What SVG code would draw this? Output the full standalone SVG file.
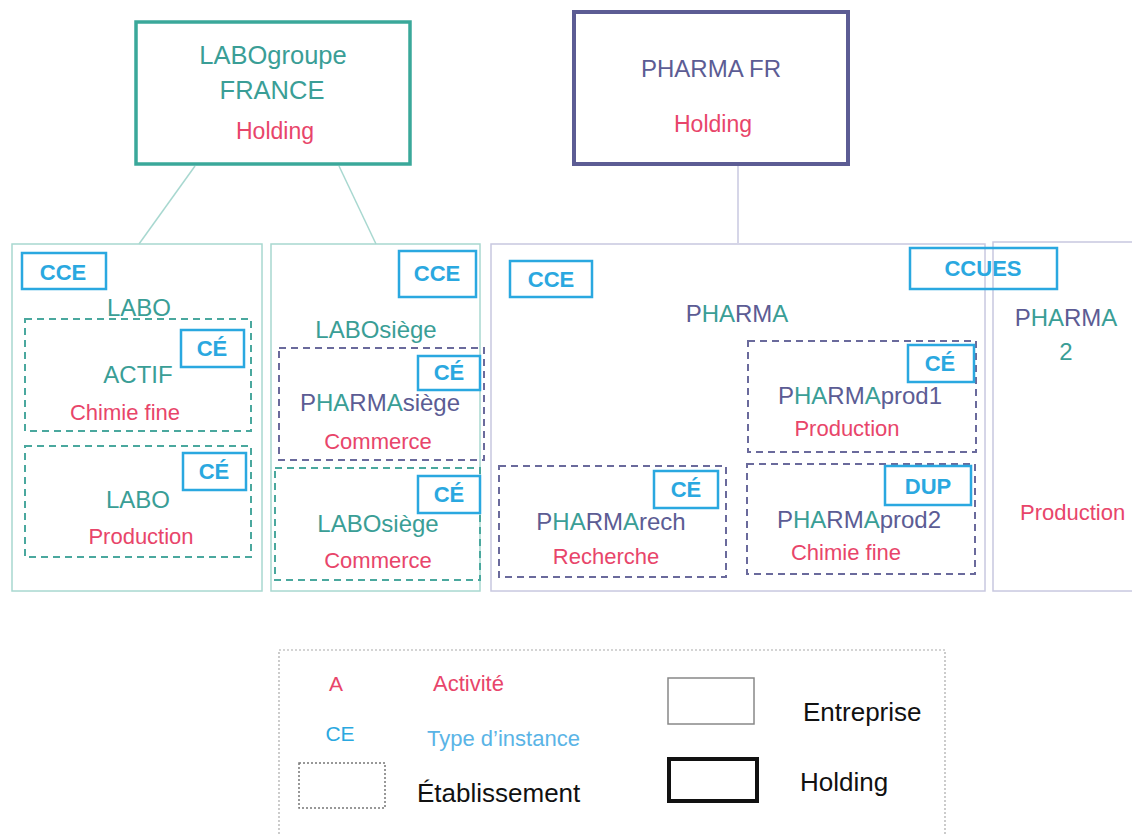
<svg xmlns="http://www.w3.org/2000/svg" width="1132" height="835" viewBox="0 0 1132 835">
<style>
text{font-family:"Liberation Sans",Arial,sans-serif;text-anchor:middle}
.t{fill:#3a9e96;font-size:24px}
.p{fill:#5c5c94;font-size:24px}
.a{fill:#e8456a;font-size:22px}
.b{fill:#2aa8e0;font-size:22px;font-weight:bold}
.ib{fill:none;stroke:#2aa8e0;stroke-width:2.5}
.et{fill:none;stroke:#a8d8d0;stroke-width:1.5}
.ep{fill:none;stroke:#c8c8e0;stroke-width:1.5}
.dt{fill:none;stroke:#4aa89e;stroke-width:2;stroke-dasharray:7 5}
.dp{fill:none;stroke:#6a6a9c;stroke-width:2;stroke-dasharray:7 5}
.tc{fill:#3a9e96}
.pc{fill:#5c5c94}
.lg{font-size:26px;fill:#111;text-anchor:start}
</style>
<rect width="1132" height="835" fill="#fff"/>
<g id="connectors">
<line x1="195" y1="166" x2="139" y2="244" stroke="#a8d8d0" stroke-width="1.5"/>
<line x1="339" y1="166" x2="376" y2="244" stroke="#a8d8d0" stroke-width="1.5"/>
<line x1="738" y1="166" x2="738" y2="243" stroke="#c8c8e0" stroke-width="1.5"/>
</g>
<g id="labogroupe">
<rect x="136" y="22" width="274" height="142" fill="none" stroke="#3aa89a" stroke-width="3.5"/>
<text x="273" y="64" class="t" style="font-size:25.5px">LABOgroupe</text>
<text x="272" y="99" class="t" style="font-size:25.5px">FRANCE</text>
<text x="275" y="139" class="a" style="font-size:23px">Holding</text>
</g>
<g id="pharmafr">
<rect x="574" y="12" width="274" height="152" fill="none" stroke="#5c5c94" stroke-width="4"/>
<text x="711" y="77" class="p">PHARMA FR</text>
<text x="713" y="132" class="a" style="font-size:23px">Holding</text>
</g>
<g id="labo">
<rect x="12" y="244" width="250" height="347" class="et"/>
<rect x="22" y="253" width="84" height="36" class="ib"/>
<text x="63" y="280" class="b">CCE</text>
<text x="139" y="316" class="t">LABO</text>
</g>
<g id="actif">
<rect x="25" y="319" width="226" height="112" class="dt"/>
<rect x="181" y="330" width="63" height="37" class="ib"/>
<text x="212" y="356" class="b">CÉ</text>
<text x="138" y="383" class="t">ACTIF</text>
<text x="125" y="420" class="a">Chimie fine</text>
</g>
<g id="laboprod">
<rect x="25" y="446" width="226" height="111" class="dt"/>
<rect x="183" y="453" width="63" height="37" class="ib"/>
<text x="214" y="479" class="b">CÉ</text>
<text x="138" y="508" class="t">LABO</text>
<text x="141" y="544" class="a">Production</text>
</g>
<g id="labosiege">
<rect x="271" y="244" width="209" height="347" class="et"/>
<rect x="399" y="251" width="77" height="46" class="ib"/>
<text x="437" y="281" class="b">CCE</text>
<text x="376" y="338" class="t">LABOsiège</text>
</g>
<g id="pharmasiege">
<rect x="279" y="348" width="205" height="112" class="dp"/>
<rect x="418" y="356" width="62" height="34" class="ib"/>
<text x="449" y="380" class="b">CÉ</text>
<text x="380" y="411" class="p"><tspan class="pc">P</tspan><tspan class="tc">HA</tspan><tspan class="pc">RM</tspan><tspan class="tc">A</tspan><tspan class="pc">siège</tspan></text>
<text x="378" y="449" class="a">Commerce</text>
</g>
<g id="labosiege2">
<rect x="275" y="468" width="205" height="112" class="dt"/>
<rect x="418" y="476" width="62" height="37" class="ib"/>
<text x="449" y="502" class="b">CÉ</text>
<text x="378" y="532" class="t">LABOsiège</text>
<text x="378" y="568" class="a">Commerce</text>
</g>
<g id="pharma">
<rect x="491" y="244" width="494" height="347" class="ep"/>
<rect x="510" y="261" width="82" height="36" class="ib"/>
<text x="551" y="287" class="b">CCE</text>
<text x="737" y="322" class="p"><tspan class="pc">P</tspan><tspan class="tc">HA</tspan><tspan class="pc">RM</tspan><tspan class="tc">A</tspan></text>
</g>
<g id="pharmaprod1">
<rect x="748" y="341" width="228" height="111" class="dp"/>
<rect x="908" y="345" width="66" height="37" class="ib"/>
<text x="940" y="371" class="b">CÉ</text>
<text x="860" y="404" class="p"><tspan class="pc">P</tspan><tspan class="tc">HA</tspan><tspan class="pc">RM</tspan><tspan class="tc">A</tspan><tspan class="pc">prod1</tspan></text>
<text x="847" y="436" class="a">Production</text>
</g>
<g id="pharmarech">
<rect x="499" y="466" width="227" height="111" class="dp"/>
<rect x="654" y="471" width="64" height="37" class="ib"/>
<text x="686" y="497" class="b">CÉ</text>
<text x="611" y="530" class="p"><tspan class="pc">P</tspan><tspan class="tc">HA</tspan><tspan class="pc">RM</tspan><tspan class="tc">A</tspan><tspan class="pc">rech</tspan></text>
<text x="606" y="564" class="a">Recherche</text>
</g>
<g id="pharmaprod2">
<rect x="747" y="464" width="228" height="110" class="dp"/>
<rect x="885" y="466" width="86" height="39" class="ib"/>
<text x="928" y="494" class="b">DUP</text>
<text x="859" y="528" class="p"><tspan class="pc">P</tspan><tspan class="tc">HA</tspan><tspan class="pc">RM</tspan><tspan class="tc">A</tspan><tspan class="pc">prod2</tspan></text>
<text x="846" y="560" class="a">Chimie fine</text>
</g>
<g id="pharma2">
<rect x="993" y="242" width="145" height="349" class="ep"/>
<text x="1066" y="326" class="p"><tspan class="pc">P</tspan><tspan class="tc">HA</tspan><tspan class="pc">RM</tspan><tspan class="tc">A</tspan></text>
<text x="1066" y="360" class="t">2</text>
<text x="1020" y="520" class="a" style="text-anchor:start">Production</text>
</g>
<g id="ccues">
<rect x="910" y="248" width="147" height="41" class="ib" fill="#fff"/>
<text x="983" y="276" class="b">CCUES</text>
</g>
<g id="legend">
<rect x="279" y="650" width="666" height="190" fill="none" stroke="#aaa" stroke-width="1.2" stroke-dasharray="2 2"/>
<text x="336" y="691" style="fill:#e8456a;font-size:21px">A</text>
<text x="433" y="691" style="fill:#e8456a;font-size:22px;text-anchor:start">Activité</text>
<text x="340" y="741" style="fill:#2aa8e0;font-size:21px">CE</text>
<text x="427" y="746" style="fill:#5ab4e6;font-size:22px;text-anchor:start">Type d’instance</text>
<rect x="299" y="763" width="86" height="45" fill="none" stroke="#777" stroke-width="1.5" stroke-dasharray="2 2"/>
<text x="417" y="802" class="lg">Établissement</text>
<rect x="668" y="678" width="86" height="46" fill="none" stroke="#888" stroke-width="1.5"/>
<text x="803" y="721" class="lg">Entreprise</text>
<rect x="669" y="759" width="88" height="42" fill="none" stroke="#111" stroke-width="4"/>
<text x="800" y="791" class="lg">Holding</text>
</g>
</svg>
